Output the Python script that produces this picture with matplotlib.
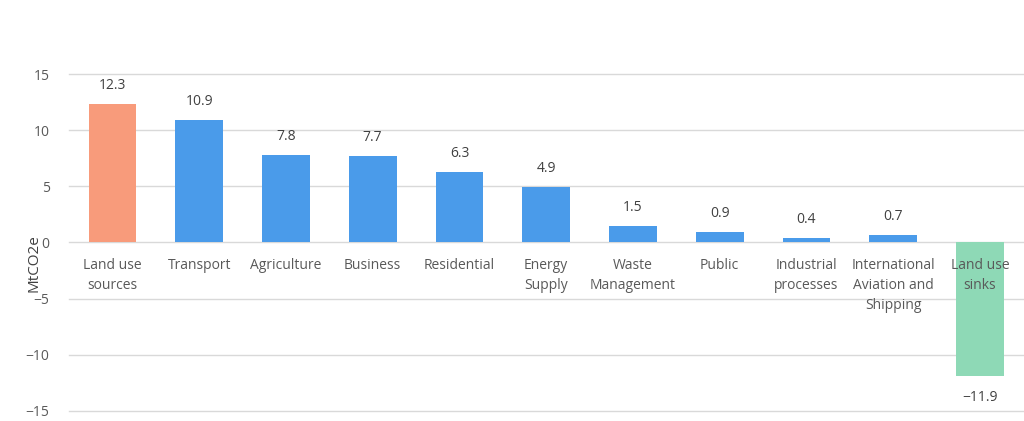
import matplotlib.pyplot as plt

plt.rcParams['font.family'] = ['Open Sans', 'DejaVu Sans']

categories = ['Land use\nsources', 'Transport', 'Agriculture', 'Business', 'Residential',
              'Energy\nSupply', 'Waste\nManagement', 'Public', 'Industrial\nprocesses',
              'International\nAviation and\nShipping', 'Land use\nsinks']
values = [12.3, 10.9, 7.8, 7.7, 6.3, 4.9, 1.5, 0.9, 0.4, 0.7, -11.9]
colors = ['#F89B7B'] + ['#4A9BEA'] * 9 + ['#8ED9B6']

fig = plt.figure(figsize=(10.24, 4.21), dpi=100)
ax = fig.add_axes([0.0674, 0.024, 0.932, 0.80])

x = list(range(len(values)))
ax.bar(x, values, width=0.55, color=colors, zorder=2)

ax.set_ylim(-15, 15)
ax.set_xlim(-0.5, len(values) - 0.5)
ax.set_yticks([-15, -10, -5, 0, 5, 10, 15])
ax.yaxis.grid(True, color='#D9D9D9', linewidth=1, zorder=0)
for gl in ax.get_ygridlines():
    gl.set_clip_on(False)
ax.set_xticks([])
for s in ax.spines.values():
    s.set_visible(False)
ax.tick_params(axis='y', length=0, labelsize=10, labelcolor='#595959', pad=14)

for i, (cat, v) in enumerate(zip(categories, values)):
    ax.annotate(cat, (i, 0), xytext=(0, -11), textcoords='offset points',
                ha='center', va='top', fontsize=10, color='#595959',
                linespacing=1.45, zorder=3)
    if v >= 0:
        ax.annotate(f'{v}', (i, v), xytext=(0, 8), textcoords='offset points',
                    ha='center', va='bottom', fontsize=10, color='#404040')
    else:
        ax.annotate(f'{v}'.replace('-', '\u2212'), (i, v), xytext=(0, -10),
                    textcoords='offset points', ha='center', va='top',
                    fontsize=10, color='#404040')

fig.text(0.033, 0.375, 'MtCO2e', rotation=90, ha='center', va='center',
         fontsize=11, color='#404040')

fig.savefig('out.png', dpi=100)
